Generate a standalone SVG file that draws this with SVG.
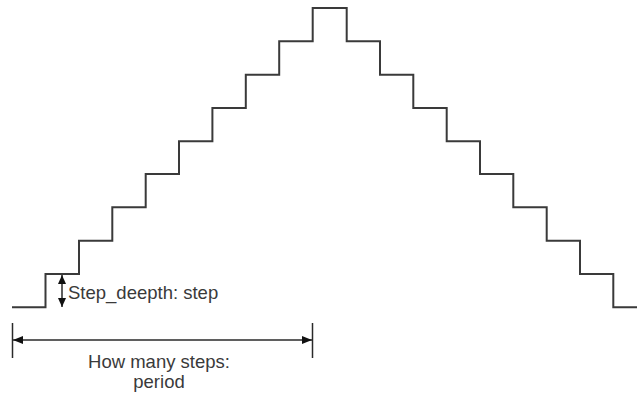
<svg xmlns="http://www.w3.org/2000/svg" width="637" height="395" viewBox="0 0 637 395">
<style>
.ln{fill:none;stroke:#3a3a3a;stroke-width:2}
.thin{fill:none;stroke:#2a2a2a;stroke-width:1.5}
.tx{font-family:"Liberation Sans",Arial,sans-serif;font-size:18.5px;fill:#3a3a3a}
</style>
<defs>
<marker id="ah" viewBox="0 0 10 8" refX="10" refY="4" markerWidth="10" markerHeight="8" markerUnits="userSpaceOnUse" orient="auto-start-reverse">
<path d="M0,0 L10,4 L0,8 Z" fill="#111"/>
</marker>
<marker id="ahs" viewBox="0 0 9 8" refX="9" refY="4" markerWidth="9" markerHeight="8" markerUnits="userSpaceOnUse" orient="auto-start-reverse">
<path d="M0,0 L9,4 L0,8 Z" fill="#111"/>
</marker>
</defs>
<rect width="637" height="395" fill="#fff"/>
<g id="stairs">
<path class="ln" d="M12,307.3 H45.5 V274 H79 V240.7 H112.3 V207.3 H145.7 V174 H179 V141.3 H212.4 V108 H245.8 V74.7 H279.2 V41.3 H312.7 V8 H346.7 V41.3 H380 V74.7 H413.3 V108 H446.7 V141.3 H480 V174 H513.3 V207.3 H546.7 V240.7 H580 V274 H613.3 V307.3 H637"/>
</g>
<g id="connectors">
<line class="thin" x1="62" y1="275" x2="62" y2="307" marker-start="url(#ahs)" marker-end="url(#ahs)"/>
<line class="thin" x1="12.5" y1="323" x2="12.5" y2="358"/>
<line class="thin" x1="312.5" y1="323" x2="312.5" y2="358"/>
<line class="thin" x1="13" y1="340" x2="312" y2="340" marker-start="url(#ah)" marker-end="url(#ah)"/>
</g>
<g id="label-step">
<text class="tx" x="68" y="299">Step_deepth: step</text>
</g>
<g id="label-period">
<text class="tx" x="159" y="368" text-anchor="middle">How many steps:</text>
<text class="tx" x="159" y="388" text-anchor="middle">period</text>
</g>
</svg>
